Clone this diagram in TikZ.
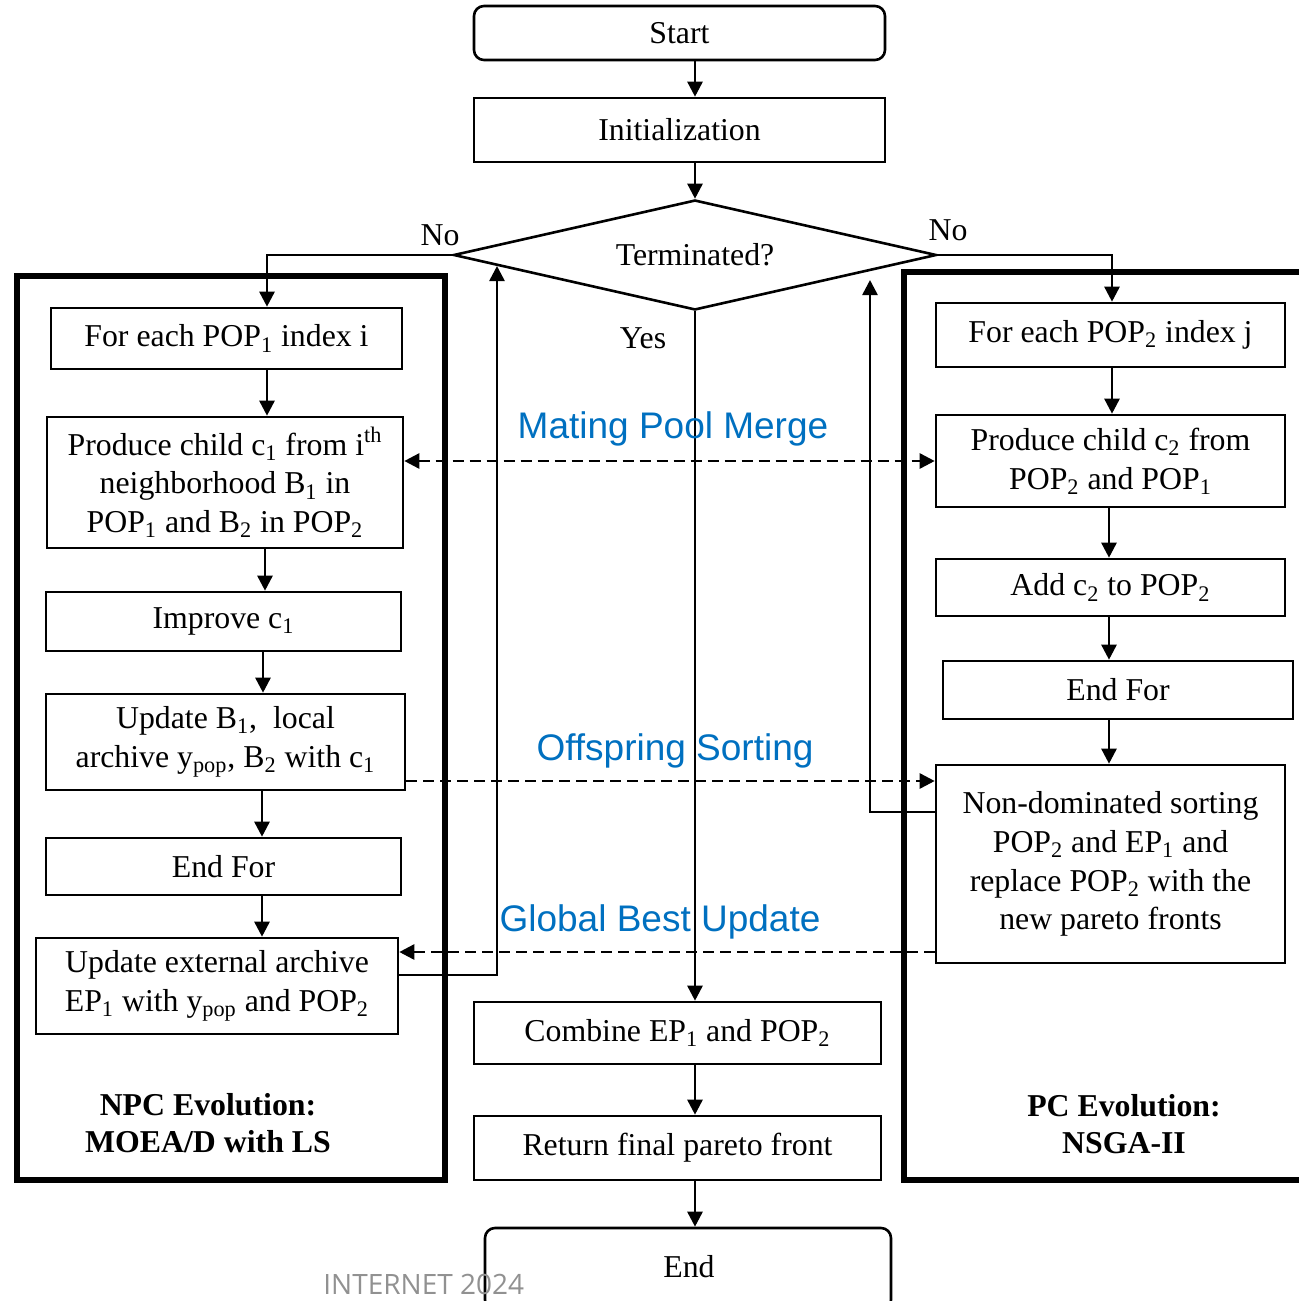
\documentclass[tikz,border=0pt]{standalone}
\usepackage{fontspec}
\setmainfont{Liberation Serif}
\newfontfamily\labelsans{Liberation Sans}
\newfontfamily\marksans{Open Sans}
\usetikzlibrary{shapes.geometric,arrows.meta}
\definecolor{labelblue}{RGB}{0,112,192}
\definecolor{markgray}{RGB}{145,145,145}

\begin{document}
\begin{tikzpicture}[x=0.5pt,y=-0.5pt,
  >={Triangle[length=7.5pt,width=7.5pt]},
  txt/.style={font=\fontsize{15.9}{19.4}\selectfont},
  box/.style={draw, line width=1.3pt, inner sep=0pt, align=center, txt},
  rbox/.style={box, rounded corners=5pt},
  frame/.style={draw, line width=2.8pt},
  arr/.style={line width=1.3pt, ->},
  dasharr/.style={line width=1.3pt, dash pattern=on 5.5pt off 3pt},
  tag/.style={txt, inner sep=0pt},
  boldtag/.style={inner sep=0pt, align=center, font=\fontsize{15.9}{18.5}\selectfont\bfseries},
  flowlabel/.style={inner sep=0pt, text=labelblue, font=\labelsans\fontsize{18.5}{22}\selectfont},
]
\useasboundingbox (0,0) rectangle (1299,1301);

% column frames
\draw[frame] (17,276) rectangle (445,1180);
\draw[frame] (1320,272) -- (904,272) -- (904,1180) -- (1320,1180);

% main flow
\node[rbox, minimum width=205.5pt, minimum height=27pt] (start) at (679.5,33) {Start};
\node[box, minimum width=205.5pt, minimum height=32pt] (init) at (679.5,130) {Initialization};
\node[draw, diamond, line width=1.3pt, minimum width=241.5pt, minimum height=55pt,
      inner sep=0pt, aspect=4.4, txt] (dm) at (695,255) {Terminated?};
\node[box, minimum width=203.5pt, minimum height=31pt] (comb) at (677.5,1033)
  {Combine EP\textsubscript{1} and POP\textsubscript{2}};
\node[box, minimum width=203.5pt, minimum height=32pt] (ret) at (677.5,1148)
  {Return final pareto front};
\node[rbox, minimum width=203pt, minimum height=41pt] (end) at (688,1269) {};
\node[tag] at (689,1267) {End};

% NPC evolution column
\node[box, minimum width=175.5pt, minimum height=30.5pt] (f1) at (226.5,338.5)
  {For each POP\textsubscript{1} index i};
\node[box, minimum width=178pt, minimum height=65.5pt] (p1) at (225,482.5)
  {Produce child c\textsubscript{1} from i\textsuperscript{th}\\ neighborhood B\textsubscript{1} in\\ POP\textsubscript{1} and B\textsubscript{2} in POP\textsubscript{2}};
\node[box, minimum width=177.5pt, minimum height=29.5pt] (i1) at (223.5,621.5)
  {Improve c\textsubscript{1}};
\node[box, minimum width=179.5pt, minimum height=48pt] (u1) at (225.5,742)
  {Update B\textsubscript{1},\ \ local\\ archive y\textsubscript{pop}, B\textsubscript{2} with c\textsubscript{1}};
\node[box, minimum width=177.5pt, minimum height=28.5pt] (e1) at (223.5,866.5) {End For};
\node[box, minimum width=181pt, minimum height=48pt] (x1) at (217,986)
  {Update external archive\\ EP\textsubscript{1} with y\textsubscript{pop} and POP\textsubscript{2}};
\node[boldtag] at (208,1123) {NPC Evolution:\\ MOEA/D with LS};

% PC evolution column
\node[box, minimum width=174.5pt, minimum height=32pt] (f2) at (1110.5,335)
  {For each POP\textsubscript{2} index j};
\node[box, minimum width=174.5pt, minimum height=46pt] (p2) at (1110.5,461)
  {Produce child c\textsubscript{2} from\\ POP\textsubscript{2} and POP\textsubscript{1}};
\node[box, minimum width=174.5pt, minimum height=28.5pt] (a2) at (1110.5,587.5)
  {Add c\textsubscript{2} to POP\textsubscript{2}};
\node[box, minimum width=175pt, minimum height=29pt] (e2) at (1118,690) {End For};
\node[box, minimum width=174.5pt, minimum height=99pt] (n2) at (1110.5,864)
  {Non-dominated sorting\\ POP\textsubscript{2} and EP\textsubscript{1} and\\ replace POP\textsubscript{2} with the\\ new pareto fronts};
\node[boldtag] at (1124,1124) {PC Evolution:\\ NSGA-II};

% reference columns and rows for connectors
\coordinate (mx) at (695,0);
\coordinate (la) at (267,0);
\coordinate (lb) at (265,0);
\coordinate (lc) at (263,0);
\coordinate (ld) at (262,0);
\coordinate (ra) at (1112,0);
\coordinate (rb) at (1109,0);
\coordinate (fbl) at (497,266);
\coordinate (fbr) at (870,280);
\coordinate (osrow) at (0,781);
\coordinate (gbrow) at (0,952);

% main connectors
\draw[arr] (mx |- start.south) -- (mx |- init.north);
\draw[arr] (mx |- init.south) -- (dm.north);
\draw[arr] (dm.south) -- (dm.south |- comb.north);
\draw[arr] (mx |- comb.south) -- (mx |- ret.north);
\draw[arr] (mx |- ret.south) -- (mx |- end.north);

% left loop
\draw[arr] (dm.west) -| (la |- f1.north);
\draw[arr] (la |- f1.south) -- (la |- p1.north);
\draw[arr] (lb |- p1.south) -- (lb |- i1.north);
\draw[arr] (lc |- i1.south) -- (lc |- u1.north);
\draw[arr] (ld |- u1.south) -- (ld |- e1.north);
\draw[arr] (ld |- e1.south) -- (ld |- x1.north);
\draw[arr] ([yshift=5.5pt]x1.east) -| (fbl);

% right loop
\draw[arr] (dm.east) -| (ra |- f2.north);
\draw[arr] (ra |- f2.south) -- (ra |- p2.north);
\draw[arr] (rb |- p2.south) -- (rb |- a2.north);
\draw[arr] (rb |- a2.south) -- (rb |- e2.north);
\draw[arr] (rb |- e2.south) -- (rb |- n2.north);
\draw[arr] ([yshift=26pt]n2.west) -| (fbr);

% exchanges between the two columns
\draw[dasharr, <->] (p1.east |- p2.west) -- (p2.west);
\draw[dasharr, ->] (u1.east |- osrow) -- (n2.west |- osrow);
\draw[dasharr, ->] (n2.west |- gbrow) -- (x1.east |- gbrow);

% labels
\node[tag] at (440,235) {No};
\node[tag] at (948,230) {No};
\node[tag] at (643,338) {Yes};
\node[flowlabel] at (673,429) {Mating Pool Merge};
\node[flowlabel] at (675,751) {Offspring Sorting};
\node[flowlabel] at (660,922) {Global Best Update};

\node[anchor=base west, inner sep=0pt, text=markgray, font=\marksans\fontsize{14}{16}\selectfont]
  at (323,1294) {INTERNET 2024};
\end{tikzpicture}
\end{document}
